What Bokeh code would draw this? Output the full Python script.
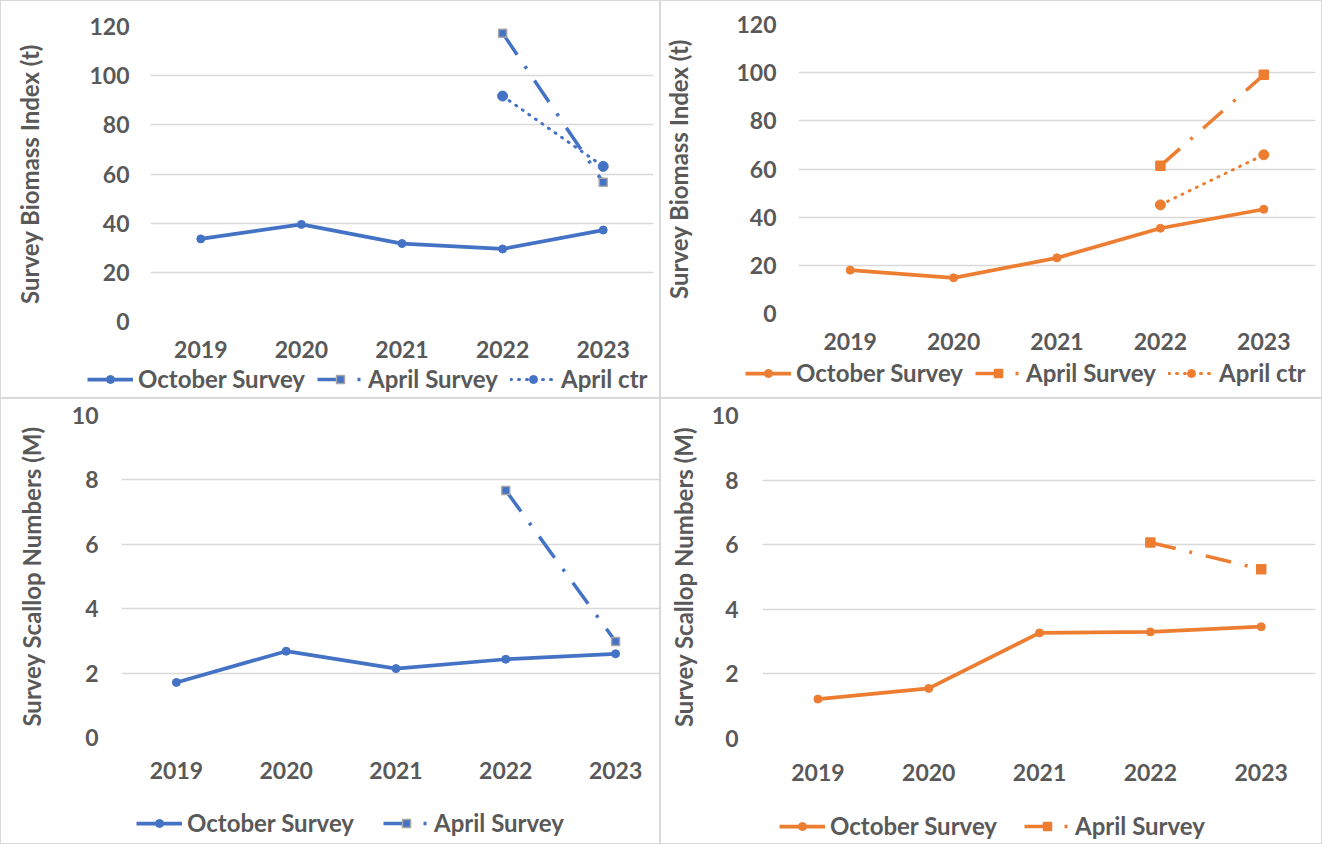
from bokeh.plotting import figure
from bokeh.models import Range1d, FixedTicker, Legend, LegendItem
from bokeh.layouts import column, row
from bokeh.embed import file_html
from bokeh.resources import INLINE

# ---------------- data ----------------
years = [2019, 2020, 2021, 2022, 2023]
april_years = [2022, 2023]

# top-left (blue) biomass index (t)
oct_biomass_blue = [33.6, 39.5, 31.7, 29.5, 37.2]
apr_biomass_blue = [117.3, 56.6]
ctr_biomass_blue = [91.7, 63.1]

# top-right (orange) biomass index (t)
oct_biomass_orange = [18.0, 14.8, 23.1, 35.4, 43.3]
apr_biomass_orange = [61.3, 99.1]
ctr_biomass_orange = [45.1, 65.9]

# bottom-left (blue) scallop numbers (M)
oct_numbers_blue = [1.71, 2.68, 2.14, 2.43, 2.60]
apr_numbers_blue = [7.67, 2.98]

# bottom-right (orange) scallop numbers (M)
oct_numbers_orange = [1.22, 1.55, 3.27, 3.30, 3.46]
apr_numbers_orange = [6.07, 5.24]

biomass_ticks = [0, 20, 40, 60, 80, 100, 120]
numbers_ticks = [0, 2, 4, 6, 8, 10]

label_oct = "October Survey"
label_apr = "April Survey"
label_ctr = "April ctr"
title_biomass = "Survey Biomass Index (t)"
title_numbers = "Survey Scallop Numbers (M)"

BLUE = "#4472C4"
ORANGE = "#ED7D31"
GREY_TXT = "#595959"
GRID = "#D9D9D9"
FONT = "Lato"


def add_series(p, color, oct_vals, apr_vals, ctr_vals, sq_line, sq_size,
               ctr_size):
    out = []
    l1 = p.line(years, oct_vals, line_color=color, line_width=3.75,
                line_join="round")
    s1 = p.scatter(years, oct_vals, marker="circle", size=8,
                   fill_color=color, line_color=color)
    out.append((label_oct, [l1, s1]))
    l2 = p.line(april_years, apr_vals, line_color=color, line_width=3.5,
                line_dash="26 14 3 14")
    s2 = p.scatter(april_years, apr_vals, marker="square", size=sq_size,
                   fill_color=color, line_color=sq_line, line_width=1.5)
    out.append((label_apr, [l2, s2]))
    if ctr_vals is not None:
        l3 = p.line(april_years, ctr_vals, line_color=color, line_width=3,
                    line_dash="1 7", line_cap="round")
        s3 = p.scatter(april_years, ctr_vals, marker="circle",
                       size=ctr_size, fill_color=color, line_color=color)
        out.append((label_ctr, [l3, s3]))
    return out


def make_panel(width, chart_h, leg_h, mb_left, mb_top, frame_w, frame_h,
               x_end, y_end, ticks, ytitle, color, oct_vals, apr_vals,
               ctr_vals, sq_line, sq_size, ctr_size, ylab_standoff,
               xlab_standoff, title_standoff, leg_loc, leg_spacing):
    p = figure(width=width, height=chart_h, output_backend="svg",
               toolbar_location=None,
               x_range=Range1d(2018.5, x_end), y_range=Range1d(0, y_end),
               min_border_left=mb_left, min_border_top=mb_top,
               min_border_right=width - mb_left - frame_w,
               min_border_bottom=chart_h - mb_top - frame_h)
    p.frame_align = False
    p.outline_line_color = None
    p.xgrid.grid_line_color = None
    p.ygrid.grid_line_color = GRID
    p.ygrid.grid_line_width = 1.3

    p.xaxis.ticker = FixedTicker(ticks=years)
    p.yaxis.ticker = FixedTicker(ticks=ticks)
    for ax in (p.xaxis[0], p.yaxis[0]):
        ax.axis_line_color = None
        ax.major_tick_line_color = None
        ax.minor_tick_line_color = None
        ax.major_tick_out = 0
        ax.major_tick_in = 0
        ax.major_label_text_font = FONT
        ax.major_label_text_font_style = "bold"
        ax.major_label_text_font_size = "23px"
        ax.major_label_text_color = GREY_TXT
    p.xaxis.major_label_standoff = xlab_standoff
    p.yaxis.major_label_standoff = ylab_standoff
    p.yaxis.axis_label = ytitle
    p.yaxis.axis_label_text_font = FONT
    p.yaxis.axis_label_text_font_style = "bold"
    p.yaxis.axis_label_text_font_size = "24px"
    p.yaxis.axis_label_text_color = GREY_TXT
    p.yaxis.axis_label_standoff = title_standoff

    add_series(p, color, oct_vals, apr_vals, ctr_vals, sq_line, sq_size,
               ctr_size)

    # legend strip: same series styles, legend drawn inside its own frame
    lg = figure(width=width, height=leg_h, output_backend="svg",
                toolbar_location=None, x_axis_type=None, y_axis_type=None,
                x_range=Range1d(0, 1), y_range=Range1d(0, 1),
                min_border=0, min_border_left=0, min_border_right=0,
                min_border_top=0, min_border_bottom=0)
    lg.frame_align = False
    lg.outline_line_color = None
    lg.grid.visible = False
    entries = add_series(lg, color, oct_vals, apr_vals, ctr_vals, sq_line,
                         sq_size, ctr_size)
    items = [LegendItem(label=lab, renderers=rs) for lab, rs in entries]
    leg = Legend(items=items, location=leg_loc, orientation="horizontal",
                 glyph_width=46, glyph_height=20, label_standoff=5,
                 spacing=leg_spacing, padding=0, margin=0,
                 background_fill_alpha=0, border_line_color=None,
                 label_text_font=FONT, label_text_font_style="bold",
                 label_text_font_size="24px", label_text_color=GREY_TXT)
    lg.add_layout(leg)
    return column(p, lg, styles={"border": "1px solid #D9D9D9"})


p1 = make_panel(658, 361, 35, 149, 25, 503, 295, 2023.5, 120,
                biomass_ticks, title_biomass, BLUE, oct_biomass_blue,
                apr_biomass_blue, ctr_biomass_blue, "#A5A5A5", 8, 10,
                21, 19, 42, (86, 4), 12)
p2 = make_panel(660, 353, 43, 135, 23, 519, 289, 2023.5, 120,
                biomass_ticks, title_biomass, ORANGE, oct_biomass_orange,
                apr_biomass_orange, ctr_biomass_orange, ORANGE, 9, 10,
                22, 19, 40, (84, 10), 12)
p3 = make_panel(658, 400, 44, 120, 16, 538, 322, 2023.4, 10,
                numbers_ticks, title_numbers, BLUE, oct_numbers_blue,
                apr_numbers_blue, None, "#A5A5A5", 8, 10,
                23, 24, 23, (135, 6), 29)
p4 = make_panel(660, 400, 44, 101, 16, 553, 323, 2023.49, 10,
                numbers_ticks, title_numbers, ORANGE, oct_numbers_orange,
                apr_numbers_orange, None, ORANGE, 9, 10,
                24, 25, 11, (118, 3), 27)

layout = column(row(p1, p2), row(p3, p4))

open("out.html", "w").write(file_html(layout, INLINE))
